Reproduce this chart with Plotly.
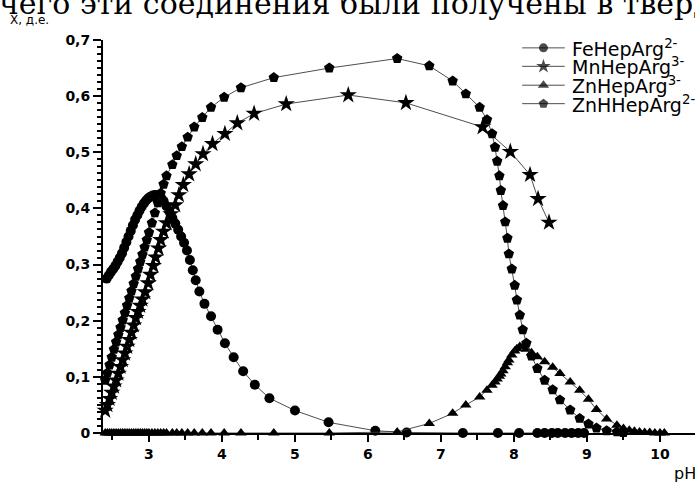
import plotly.graph_objects as go

# ---------------- data ----------------
fe_ph = [2.42, 2.45, 2.48, 2.51, 2.54, 2.57, 2.60, 2.63, 2.66, 2.69, 2.72, 2.75, 2.78, 2.81,
         2.84, 2.87, 2.90, 2.93, 2.96, 2.99, 3.02, 3.05, 3.08, 3.11, 3.14, 3.17, 3.20,
         3.24, 3.28, 3.32, 3.36, 3.40, 3.44, 3.48, 3.52, 3.56, 3.60, 3.64, 3.69, 3.76, 3.85,
         3.94, 4.04, 4.16, 4.29, 4.45, 4.65, 5.00, 5.46, 6.10, 6.53, 7.30, 7.78, 8.07, 8.32,
         8.42, 8.52, 8.60, 8.70, 8.79, 8.88, 8.96]
fe_x = [0.275, 0.281, 0.287, 0.292, 0.298, 0.305, 0.312, 0.320, 0.330, 0.340, 0.350, 0.360,
        0.370, 0.380, 0.388, 0.396, 0.403, 0.409, 0.414, 0.418, 0.421, 0.423, 0.424, 0.423,
        0.421, 0.418, 0.413,
        0.404, 0.394, 0.383, 0.373, 0.362, 0.350, 0.339, 0.325, 0.308, 0.290, 0.272, 0.252,
        0.230, 0.208, 0.184, 0.160, 0.135, 0.110, 0.086, 0.062, 0.040, 0.019, 0.004, 0.001,
        0, 0, 0, 0, 0, 0, 0, 0, 0, 0, 0]

mn_ph = [2.40, 2.43, 2.46, 2.49, 2.52, 2.55, 2.58, 2.61, 2.64, 2.67, 2.70, 2.73, 2.76, 2.79,
         2.82, 2.85, 2.88, 2.91,
         2.95, 2.99, 3.02, 3.06, 3.09, 3.13, 3.16, 3.20, 3.24, 3.30, 3.36, 3.41, 3.47, 3.55,
         3.64, 3.74, 3.87, 4.04, 4.21, 4.44, 4.88, 5.73, 6.52, 7.57, 7.95, 8.22, 8.33, 8.48]
mn_x = [0.040, 0.050, 0.061, 0.072, 0.083, 0.094, 0.106, 0.118, 0.130, 0.142, 0.154, 0.166,
        0.179, 0.192, 0.205, 0.216, 0.227, 0.238,
        0.251, 0.267, 0.282, 0.298, 0.313, 0.329, 0.344, 0.359, 0.374, 0.390, 0.406, 0.424,
        0.442, 0.461, 0.479, 0.497, 0.515, 0.533, 0.552, 0.569, 0.586, 0.602, 0.588, 0.545,
        0.501, 0.460, 0.417, 0.375]

znh_ph = [2.40, 2.43, 2.46, 2.49, 2.52, 2.55, 2.58, 2.61, 2.64, 2.67, 2.70, 2.73, 2.76, 2.79,
          2.82, 2.85, 2.88, 2.91, 2.94, 2.97, 3.00,
          3.04, 3.08, 3.12, 3.16, 3.20, 3.24,
          3.32, 3.38, 3.45, 3.53, 3.62, 3.73, 3.85, 4.03, 4.26, 4.71, 5.47, 6.40, 6.84, 7.16,
          7.34, 7.53,
          7.63, 7.70, 7.74, 7.77, 7.80, 7.82, 7.85, 7.88, 7.91, 7.93, 7.97, 8.01, 8.04, 8.08,
          8.12, 8.17,
          8.24, 8.32, 8.42, 8.53, 8.63, 8.77, 8.90, 9.02, 9.13, 9.27, 9.41, 9.50]
znh_x = [0.094, 0.107, 0.121, 0.135, 0.149, 0.162, 0.175, 0.188, 0.201, 0.214, 0.227, 0.240,
         0.253, 0.266, 0.279, 0.292, 0.305, 0.318, 0.331, 0.344, 0.357,
         0.374, 0.392, 0.410, 0.427, 0.443, 0.458,
         0.478, 0.494, 0.510, 0.527, 0.545, 0.562, 0.580, 0.598, 0.615, 0.633, 0.650, 0.667,
         0.654, 0.627, 0.604, 0.580,
         0.558, 0.533, 0.509, 0.484, 0.458, 0.432, 0.405, 0.376, 0.347, 0.319, 0.292, 0.263,
         0.237, 0.210, 0.184, 0.160,
         0.137, 0.115, 0.094, 0.077, 0.059, 0.041, 0.026, 0.016, 0.009, 0.004, 0.002, 0.001]

zn_ph = [2.40, 2.43, 2.46, 2.49, 2.52, 2.55, 2.58, 2.61, 2.64, 2.67, 2.70, 2.73, 2.76, 2.79,
         2.82, 2.85, 2.88, 2.91, 2.94, 2.97, 3.00,
         3.04, 3.08, 3.12, 3.16, 3.20, 3.24,
         3.32, 3.38, 3.45, 3.53, 3.62, 3.73, 3.85, 4.03, 4.26, 4.71, 5.47, 6.40, 6.84, 7.16,
         7.34, 7.53,
         7.63, 7.70, 7.74, 7.77, 7.80, 7.82, 7.85, 7.88, 7.91, 7.93, 7.97, 8.01, 8.04, 8.08,
         8.12, 8.17,
         8.24, 8.32, 8.42, 8.53, 8.63, 8.77, 8.90, 9.02, 9.13, 9.27, 9.41, 9.50,
         9.58, 9.65, 9.72, 9.79, 9.86, 9.93, 10.00, 10.06]
zn_x = [0, 0, 0, 0, 0, 0, 0, 0, 0, 0, 0, 0, 0, 0, 0, 0, 0, 0, 0, 0, 0,
        0, 0, 0, 0, 0, 0,
        0, 0, 0, 0, 0, 0, 0, 0, 0, 0, 0, 0.002, 0.017, 0.035, 0.050, 0.064,
        0.076, 0.085, 0.091, 0.096, 0.101, 0.105, 0.111, 0.118, 0.125, 0.130, 0.139, 0.146,
        0.150, 0.154, 0.153, 0.149,
        0.143, 0.136, 0.127, 0.117, 0.106, 0.091, 0.076, 0.060, 0.042, 0.025, 0.014, 0.008,
        0.005, 0.003, 0.002, 0.001, 0.001, 0, 0, 0]

series_names = ["FeHepArg<sup>2-</sup>", "MnHepArg<sup>3-</sup>",
                "ZnHepArg<sup>3-</sup>", "ZnHHepArg<sup>2-</sup>"]

y_tickvals = [0, 0.1, 0.2, 0.3, 0.4, 0.5, 0.6, 0.7]
y_ticktext = ["0", "0,1", "0,2", "0,3", "0,4", "0,5", "0,6", "0,7"]
x_tickvals = [3, 4, 5, 6, 7, 8, 9, 10]
x_ticktext = ["3", "4", "5", "6", "7", "8", "9", "10"]

# ---------------- styling ----------------
LINE = dict(color="#3a3a3a", width=0.9)
symbols = ["circle", "star", "triangle-up", "pentagon"]
sizes = [10, 13, 10, 11]
key_sizes = [9, 11, 10, 10]
datasets = [(fe_ph, fe_x), (mn_ph, mn_x), (zn_ph, zn_x), (znh_ph, znh_x)]

fig = go.Figure()
for (xs, ys), sym, sz, name in zip(datasets, symbols, sizes, series_names):
    fig.add_trace(go.Scatter(
        x=xs, y=ys, mode="lines+markers", name=name, showlegend=False,
        line=LINE, cliponaxis=False,
        marker=dict(symbol=sym, size=sz, color="black", line=dict(width=0)),
    ))

# legend keys (drawn on a hidden overlay axis in 0..1 plot fractions)
key_x = [0.708, 0.744, 0.780]
key_rows = [0.980, 0.933, 0.885, 0.838]
for sym, sz, row, name in zip(symbols, key_sizes, key_rows, series_names):
    fig.add_trace(go.Scatter(
        x=key_x, y=[row] * 3, xaxis="x2", yaxis="y2", mode="lines+markers",
        showlegend=False, hoverinfo="skip", cliponaxis=False, line=LINE,
        marker=dict(symbol=sym, size=[0, sz, 0], color="black", line=dict(width=0)),
    ))
    fig.add_annotation(xref="paper", yref="paper", x=0.789, y=row, xanchor="left",
                       yanchor="middle", text=name, showarrow=False,
                       font=dict(family="DejaVu Sans", size=19, color="black"))

AX = dict(showline=True, linecolor="black", linewidth=2, showgrid=False, zeroline=False,
          ticks="outside", tickcolor="black", tickwidth=2, mirror=False)

fig.update_layout(
    width=695, height=486, margin=dict(l=103, r=0, t=40, b=53),
    paper_bgcolor="white", plot_bgcolor="white", showlegend=False,
    xaxis=dict(range=[2.37, 10.48], tickvals=x_tickvals, ticktext=x_ticktext, ticklen=7,
               tickfont=dict(family="DejaVu Sans", size=14, color="black", weight="bold"),
               minor=dict(dtick=0.5, tick0=0, ticks="outside", ticklen=5, tickwidth=2,
                          tickcolor="black"),
               **AX),
    yaxis=dict(range=[0, 0.7], tickvals=y_tickvals, ticktext=y_ticktext, ticklen=8,
               tickfont=dict(family="DejaVu Sans", size=14, color="black", weight="bold"),
               minor=dict(dtick=0.0125, tick0=0, ticks="outside", ticklen=4, tickwidth=1.5,
                          tickcolor="black"),
               **AX),
    xaxis2=dict(overlaying="x", range=[0, 1], visible=False, fixedrange=True),
    yaxis2=dict(overlaying="y", range=[0, 1], visible=False, fixedrange=True),
)

# page text and axis titles
fig.add_annotation(xref="paper", yref="paper", x=(-3 - 103) / 592, y=1 + (40 - 3) / 393,
                   xanchor="left", yanchor="middle", showarrow=False,
                   text="чего эти соединения были получены в тверд",
                   font=dict(family="DejaVu Serif", size=30, color="black"))
fig.add_annotation(xref="paper", yref="paper", x=(8 - 103) / 592, y=1 + (40 - 20) / 393,
                   xanchor="left", yanchor="middle", showarrow=False, text="Х, д.е.",
                   font=dict(family="DejaVu Sans", size=12, color="black"))
fig.add_annotation(xref="paper", yref="paper", x=(672 - 103) / 592, y=(433 - 473) / 393,
                   xanchor="left", yanchor="middle", showarrow=False, text="pH",
                   font=dict(family="DejaVu Sans", size=16, color="black"))

fig.write_html("out.html")
